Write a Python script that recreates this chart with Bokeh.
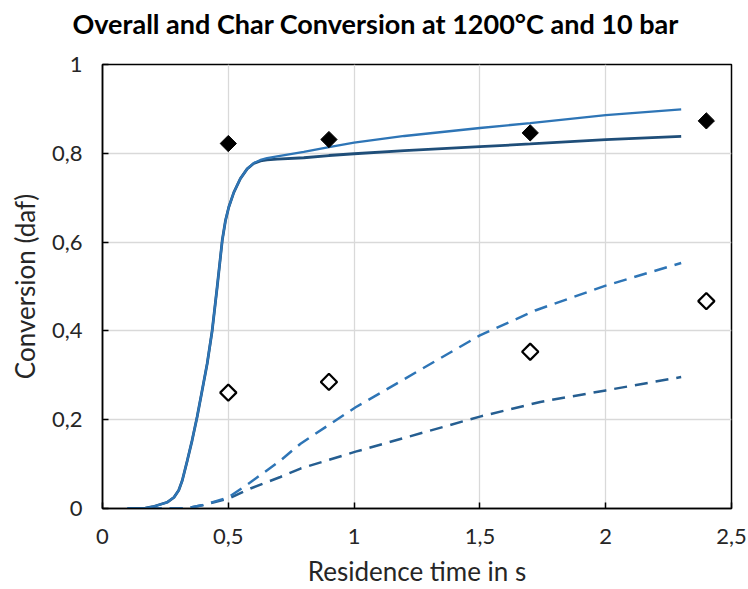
import numpy as np
from bokeh.plotting import figure
from bokeh.models import Range1d, FixedTicker, CustomJSTickFormatter, Title
from bokeh.embed import file_html
from bokeh.resources import INLINE

# ---- data ----
t_overall_model_a = [0.1, 0.17, 0.2, 0.257, 0.284, 0.303, 0.317, 0.337, 0.356, 0.376, 0.396, 0.416,
                     0.436, 0.456, 0.476, 0.489, 0.502, 0.522, 0.548, 0.575, 0.601, 0.628, 0.654,
                     0.694, 0.8, 0.9, 1.0, 1.2, 1.5, 1.7, 2.0, 2.3]
x_overall_model_a = [0.0, 0.001, 0.004, 0.014, 0.025, 0.041, 0.063, 0.108, 0.153, 0.206, 0.266, 0.326,
                     0.401, 0.5, 0.604, 0.649, 0.679, 0.712, 0.743, 0.765, 0.778, 0.785, 0.789,
                     0.793, 0.803, 0.814, 0.824, 0.839, 0.857, 0.868, 0.886, 0.899]

t_overall_model_b = [0.1, 0.17, 0.2, 0.257, 0.284, 0.303, 0.317, 0.337, 0.356, 0.376, 0.396, 0.416,
                     0.436, 0.456, 0.476, 0.489, 0.502, 0.522, 0.548, 0.575, 0.601, 0.628, 0.654,
                     0.694, 0.8, 0.9, 1.0, 1.2, 1.5, 1.7, 2.0, 2.3]
x_overall_model_b = [0.0, 0.001, 0.004, 0.014, 0.025, 0.041, 0.063, 0.108, 0.153, 0.206, 0.266, 0.326,
                     0.401, 0.5, 0.604, 0.649, 0.679, 0.712, 0.743, 0.765, 0.777, 0.783, 0.785,
                     0.787, 0.790, 0.795, 0.799, 0.806, 0.815, 0.821, 0.831, 0.838]

t_char_model_a = [0.1, 0.3, 0.35, 0.4, 0.5, 0.588, 0.707, 0.787, 1.006, 1.5, 1.72, 2.0, 2.3]
x_char_model_a = [0.0, 0.0, 0.002, 0.008, 0.025, 0.059, 0.108, 0.146, 0.228, 0.39, 0.446, 0.502, 0.553]

t_char_model_b = [0.1, 0.3, 0.35, 0.4, 0.5, 0.588, 0.707, 0.787, 1.006, 1.5, 1.74, 2.0, 2.3]
x_char_model_b = [0.0, 0.0, 0.002, 0.008, 0.022, 0.045, 0.071, 0.09, 0.128, 0.207, 0.24, 0.266, 0.296]

t_exp = [0.5, 0.9, 1.7, 2.4]
x_overall_exp = [0.822, 0.831, 0.846, 0.873]
x_char_exp = [0.261, 0.285, 0.353, 0.467]

x_ticks = [0, 0.5, 1, 1.5, 2, 2.5]
y_ticks = [0, 0.2, 0.4, 0.6, 0.8, 1]

TITLE = "Overall and Char Conversion at 1200°C and 10 bar"

LIGHT = "#2E75B6"
DARK = "#1F4E79"
DARK_DASH = "#255E91"

p = figure(width=748, height=589, output_backend="svg", toolbar_location=None,
           x_range=Range1d(0, 2.5), y_range=Range1d(0, 1))
p.min_border_left = 102
p.min_border_right = 17
p.min_border_top = 64
p.min_border_bottom = 81
p.background_fill_color = "white"
p.border_fill_color = "white"
p.outline_line_color = "black"
p.outline_line_width = 1.5

# spacer (closest to the frame) then the real title above it
p.add_layout(Title(text=" ", text_font_size="10px", standoff=4, text_color="white"), "above")
p.add_layout(Title(text=TITLE, text_font="Lato", text_font_size="27px", text_font_style="bold",
                   text_color="black", align="left", vertical_align="top",
                   offset=-30, standoff=12), "above")

fmt = CustomJSTickFormatter(code="return Number(tick.toFixed(2)).toString().replace('.', ',');")
for ax, ticks in ((p.xaxis[0], x_ticks), (p.yaxis[0], y_ticks)):
    ax.ticker = FixedTicker(ticks=ticks)
    ax.formatter = fmt
    ax.axis_line_color = "black"
    ax.axis_line_width = 1.5
    ax.major_tick_in = 6
    ax.major_tick_out = 0
    ax.major_tick_line_color = "black"
    ax.major_tick_line_width = 1.5
    ax.minor_tick_line_color = None
    ax.major_label_text_font = "Lato"
    ax.major_label_text_font_size = "22px"
    ax.major_label_text_color = "#262626"
    ax.axis_label_text_font = "Lato"
    ax.axis_label_text_font_size = "26px"
    ax.axis_label_text_font_style = "normal"
    ax.axis_label_text_color = "#262626"

p.xaxis.axis_label = "Residence time in s"
p.yaxis.axis_label = "Conversion (daf)"
p.xaxis.major_label_standoff = 20
p.yaxis.major_label_standoff = 20
p.xaxis.axis_label_standoff = 8
p.yaxis.axis_label_standoff = 8

p.xgrid.ticker = FixedTicker(ticks=x_ticks)
p.ygrid.ticker = FixedTicker(ticks=y_ticks)
p.grid.grid_line_color = "#d9d9d9"
p.grid.grid_line_width = 1.3

# model curves
p.line(t_char_model_b, x_char_model_b, line_color=DARK_DASH, line_width=2.5, line_dash="13 8")
p.line(t_char_model_a, x_char_model_a, line_color=LIGHT, line_width=2.5, line_dash="13 8")
p.line(t_overall_model_b, x_overall_model_b, line_color=DARK, line_width=2.8)
p.line(t_overall_model_a, x_overall_model_a, line_color=LIGHT, line_width=2.3)

# experimental points
p.scatter(t_exp, x_overall_exp, marker="square", angle=np.pi / 4, size=11.5,
          fill_color="black", line_color="black", line_width=1)
p.scatter(t_exp, x_char_exp, marker="square", angle=np.pi / 4, size=11.5,
          fill_color="white", line_color="black", line_width=2.2)

open("out.html", "w").write(file_html(p, INLINE))
